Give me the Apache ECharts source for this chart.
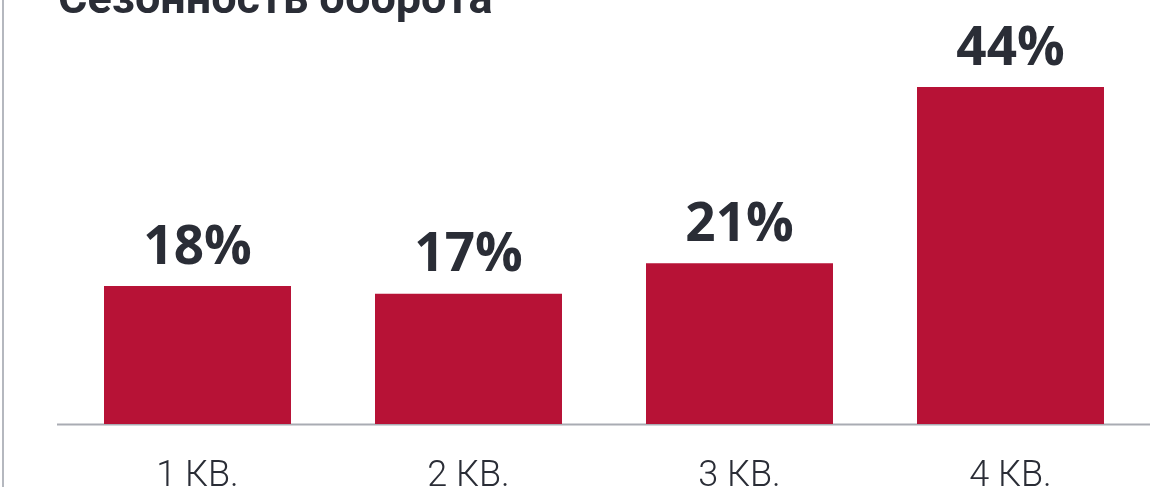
<!DOCTYPE html>
<html>
<head>
<meta charset="utf-8">
<script src="https://cdn.jsdelivr.net/npm/echarts@6/dist/echarts.min.js"></script>
<style>
  html, body { margin: 0; padding: 0; background: #fff; }
  #chart { width: 1153px; height: 487px; }
</style>
</head>
<body>
<div id="chart"></div>
<script>
// данные
const quarters = ['1 КВ.', '2 КВ.', '3 КВ.', '4 КВ.']
const shares = [18, 17, 21, 44]
const titleText = 'Сезонность оборота'

const chart = echarts.init(document.getElementById('chart'))

const option = {
  animation: false,
  title: {
    text: titleText,
    left: 53,
    top: -26,
    textStyle: {
      fontFamily: 'Roboto',
      fontSize: 45,
      fontWeight: 'bold',
      color: '#2a2d36',
    },
  },
  grid: {
    left: 62,
    right: 7,
    top: 41,
    bottom: 63,
    outerBoundsMode: 'none',
    containLabel: false,
  },
  xAxis: {
    type: 'category',
    data: quarters,
    axisLine: { show: false },
    axisTick: { show: false },
    axisLabel: {
      margin: 35,
      fontFamily: 'Roboto',
      fontSize: 36,
      fontWeight: 300,
      color: '#2a2d36',
    },
  },
  yAxis: {
    type: 'value',
    min: 0,
    max: 50,
    show: false,
  },
  series: [
    {
      type: 'bar',
      data: shares,
      barWidth: '69%',
      itemStyle: { color: '#b71236' },
      label: {
        show: true,
        position: 'top',
        distance: 11,
        formatter: '{c}%',
        fontFamily: 'Open Sans',
        fontSize: 53,
        fontWeight: 'bold',
        color: '#2a2d36',
      },
    },
  ],
  graphic: [
    {
      type: 'line',
      shape: { x1: 3, y1: 0, x2: 3, y2: 487 },
      style: { stroke: '#b5b8bf', lineWidth: 2 },
    },
    {
      type: 'line',
      shape: { x1: 57, y1: 424.5, x2: 1150, y2: 424.5 },
      style: { stroke: '#a9acb3', lineWidth: 2 },
    },
  ],
}

chart.setOption(option)
</script>
</body>
</html>
